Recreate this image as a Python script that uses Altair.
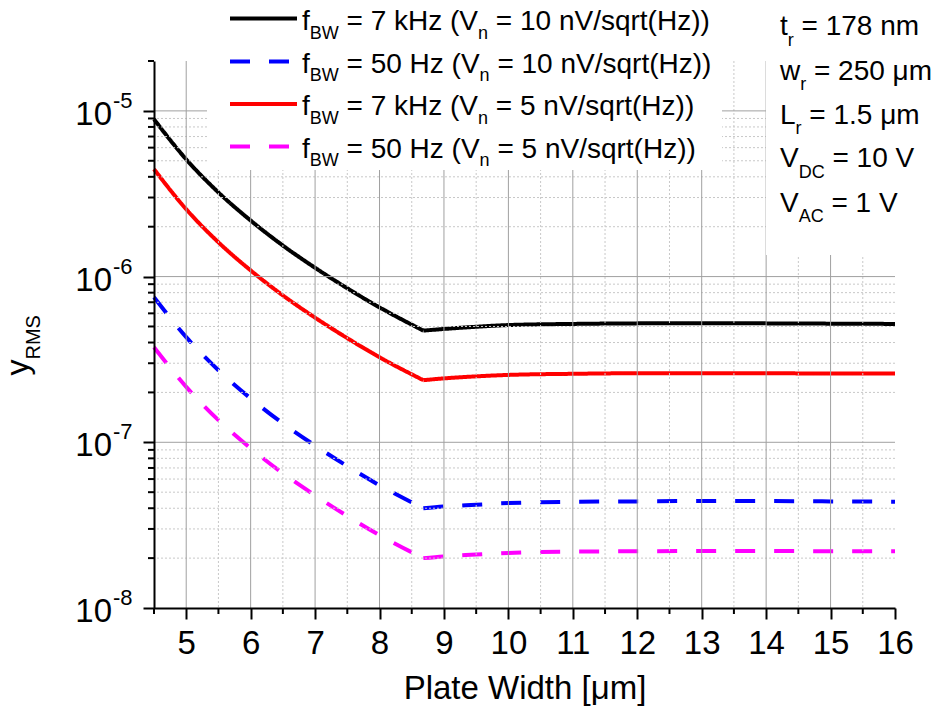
import altair as alt
import pandas as pd

# ---------------- data ----------------
plate_width = [4.5, 5.0, 5.5, 6.0, 6.5, 7.0, 7.5, 8.0, 8.68, 9.0, 9.5, 10, 11, 12, 13, 14, 15, 16]
kink_x = 8.68
y_7k_10 = [8.9e-6, 5.1e-6, 3.22e-6, 2.18e-6, 1.54e-6, 1.13e-6, 8.5e-7, 6.52e-7, 4.72e-7, 4.83e-7,
           4.98e-7, 5.1e-7, 5.18e-7, 5.22e-7, 5.23e-7, 5.22e-7, 5.2e-7, 5.18e-7]
y_50_10 = [7.5e-7, 4.31e-7, 2.72e-7, 1.84e-7, 1.3e-7, 9.55e-8, 7.18e-8, 5.5e-8, 4.0e-8, 4.1e-8,
           4.2e-8, 4.3e-8, 4.37e-8, 4.4e-8, 4.42e-8, 4.42e-8, 4.4e-8, 4.38e-8]
y_7k_5 = [4.45e-6, 2.55e-6, 1.61e-6, 1.09e-6, 7.7e-7, 5.65e-7, 4.25e-7, 3.26e-7, 2.37e-7, 2.43e-7,
          2.5e-7, 2.55e-7, 2.59e-7, 2.61e-7, 2.61e-7, 2.61e-7, 2.6e-7, 2.6e-7]
y_50_5 = [3.75e-7, 2.16e-7, 1.36e-7, 9.2e-8, 6.5e-8, 4.78e-8, 3.59e-8, 2.75e-8, 2.0e-8, 2.05e-8,
          2.1e-8, 2.15e-8, 2.19e-8, 2.2e-8, 2.21e-8, 2.21e-8, 2.2e-8, 2.2e-8]

series_keys = ["7k_10", "50_10", "7k_5", "50_5"]
series_colors = ["#000000", "#0000ff", "#ff0000", "#ff00ff"]
series_dash = [[1, 0], [20, 19], [1, 0], [20, 19]]

x_major_ticks = [5, 6, 7, 8, 9, 10, 11, 12, 13, 14, 15, 16]
x_major_grid = [5, 6, 7, 8, 9, 10, 11, 12, 13, 14, 15]
x_minor = [4.5, 5.5, 6.5, 7.5, 8.5, 9.5, 10.5, 11.5, 12.5, 13.5, 14.5, 15.5]
y_decades = [1e-8, 1e-7, 1e-6, 1e-5]
y_exponents = ["-8", "-7", "-6", "-5"]
y_major_grid = [1e-7, 1e-6, 1e-5]
y_minor_grid = [m * d for d in [1e-8, 1e-7, 1e-6] for m in range(2, 10)]
y_minor = y_minor_grid + [2e-5]

legend_rows = [
    [("f", 0), ("BW", 1), (" = 7 kHz (V", 0), ("n", 1), (" = 10 nV/sqrt(Hz))", 0)],
    [("f", 0), ("BW", 1), (" = 50 Hz (V", 0), ("n", 1), (" = 10 nV/sqrt(Hz))", 0)],
    [("f", 0), ("BW", 1), (" = 7 kHz (V", 0), ("n", 1), (" = 5 nV/sqrt(Hz))", 0)],
    [("f", 0), ("BW", 1), (" = 50 Hz (V", 0), ("n", 1), (" = 5 nV/sqrt(Hz))", 0)],
]
param_rows = [
    [("t", 0), ("r", 1), (" = 178 nm", 0)],
    [("w", 0), ("r", 1), (" = 250 μm", 0)],
    [("L", 0), ("r", 1), (" = 1.5 μm", 0)],
    [("V", 0), ("DC", 1), (" = 10 V", 0)],
    [("V", 0), ("AC", 1), (" = 1 V", 0)],
]

# ---------------- layout ----------------
FONT = "Liberation Sans"
OX, OY = 154, 61          # page position of plot origin
PW, PH = 741, 547
PAD_R, PAD_B = 39, 98

# Arial / Liberation Sans advance widths (1/1000 em)
WID = {' ': 278, '=': 584, '(': 333, ')': 333, '/': 278, '.': 278, '[': 278, ']': 278, '-': 333,
       'A': 667, 'B': 667, 'C': 722, 'D': 722, 'H': 722, 'L': 556, 'M': 833, 'R': 722, 'S': 667,
       'V': 667, 'W': 944, 'a': 556, 'd': 556, 'e': 556, 'f': 278, 'h': 556, 'i': 222, 'k': 500,
       'l': 222, 'm': 833, 'n': 556, 'q': 556, 'r': 333, 's': 500, 't': 278, 'w': 722, 'y': 500,
       'z': 500, 'μ': 576}
for d in "0123456789":
    WID[d] = 556


def layout(segs, x0, base, main, sub, shift):
    rows = []
    x = x0
    for t, s in segs:
        fs = sub if s else main
        lead = len(t) - len(t.lstrip(' '))
        x += lead * WID[' '] / 1000 * fs
        t2 = t.lstrip(' ')
        rows.append({'px': x - OX, 'py': base + (shift if s else 0) - OY, 'txt': t2, 'fs': fs})
        x += sum(WID[c] for c in t2) / 1000 * fs
    return rows


text_rows = []
legend_base = [30, 72.5, 115, 157.5]
for segs, b in zip(legend_rows, legend_base):
    text_rows += layout(segs, 302, b, 28, 18, 8.5)
param_base = [35, 79.5, 123.5, 167, 211.5]
for segs, b in zip(param_rows, param_base):
    text_rows += layout(segs, 780, b, 28, 18, 10.5)
text_df = pd.DataFrame(text_rows)

# ---------------- charts ----------------
xscale = alt.Scale(domain=[4.5, 16], nice=False, zero=False)
yscale = alt.Scale(type="log", domain=[1e-8, 2e-5], nice=False)

rows = []
for k, ys in zip(series_keys, [y_7k_10, y_50_10, y_7k_5, y_50_5]):
    for xv, yv in zip(plate_width, ys):
        # the curve has a sharp corner at the kink: draw both sides as separate smooth pieces
        if xv <= kink_x:
            rows.append({"series": k, "part": k + "_a", "x": xv, "y": yv})
        if xv >= kink_x:
            rows.append({"series": k, "part": k + "_b", "x": xv, "y": yv})
curves_df = pd.DataFrame(rows)

x_axis = alt.Axis(values=x_major_ticks, grid=False, tickSize=11, tickWidth=2, tickColor="black",
                  domainColor="black", domainWidth=2, labelFont=FONT, labelFontSize=33,
                  labelColor="black", labelPadding=8, labelFlush=False, format="d",
                  title="Plate Width [μm]", titleFont=FONT, titleFontSize=33, titleColor="black",
                  titleFontWeight="normal", titleBaseline="alphabetic", titleY=90, zindex=1)
y_axis = alt.Axis(values=y_decades, grid=False, labels=False, tickSize=11, tickWidth=2,
                  tickColor="black", domainColor="black", domainWidth=2, title=None, zindex=1)


def X(field):
    return alt.X(field, scale=xscale, axis=x_axis)


def Y(field):
    return alt.Y(field, scale=yscale, axis=y_axis)


vgrid_minor = alt.Chart(pd.DataFrame({"gx": x_minor[1:]})).mark_rule(
    color="#c8c8c8", strokeWidth=1, strokeDash=[2, 2]).encode(x=X("gx:Q"))
hgrid_minor = alt.Chart(pd.DataFrame({"gy": y_minor_grid})).mark_rule(
    color="#c8c8c8", strokeWidth=1, strokeDash=[2, 2]).encode(y=Y("gy:Q"))
vgrid_major = alt.Chart(pd.DataFrame({"gx": x_major_grid})).mark_rule(
    color="#a0a0a0", strokeWidth=1).encode(x=X("gx:Q"))
hgrid_major = alt.Chart(pd.DataFrame({"gy": y_major_grid})).mark_rule(
    color="#a0a0a0", strokeWidth=1).encode(y=Y("gy:Q"))

one = pd.DataFrame({"a": [0]})
legend_box = alt.Chart(one).mark_rect(color="white").encode(
    x=alt.value(207 - OX), x2=alt.value(722 - OX), y=alt.value(-OY), y2=alt.value(170 - OY))
param_box = alt.Chart(one).mark_rect(color="white").encode(
    x=alt.value(766 - OX), x2=alt.value(PW + PAD_R), y=alt.value(-OY), y2=alt.value(255 - OY))

curves = alt.Chart(curves_df).mark_line(strokeWidth=4, interpolate="monotone").encode(
    x=X("x:Q"),
    y=Y("y:Q"),
    color=alt.Color("series:N", scale=alt.Scale(domain=series_keys, range=series_colors), legend=None),
    strokeDash=alt.StrokeDash("series:N", scale=alt.Scale(domain=series_keys, range=series_dash), legend=None),
    detail="part:N",
)

xminor_ticks = alt.Chart(pd.DataFrame({"tx": x_minor})).mark_rule(color="black", strokeWidth=2).encode(
    x=X("tx:Q"), y=alt.value(PH), y2=alt.value(PH + 6))
yminor_ticks = alt.Chart(pd.DataFrame({"ty": y_minor})).mark_rule(color="black", strokeWidth=2).encode(
    y=Y("ty:Q"), x=alt.value(-6), x2=alt.value(0))

ylab_df = pd.DataFrame({"v": y_decades, "b": ["10"] * 4, "e": y_exponents})
ylab_base = alt.Chart(ylab_df).mark_text(align="right", baseline="alphabetic", font=FONT,
                                         fontSize=33, color="black", dy=14).encode(
    y=Y("v:Q"), x=alt.value(112 - OX), text="b:N")
ylab_exp = alt.Chart(ylab_df).mark_text(align="left", baseline="alphabetic", font=FONT,
                                        fontSize=22, color="black", dy=-3).encode(
    y=Y("v:Q"), x=alt.value(113 - OX), text="e:N")

ytitle_df = pd.DataFrame([{"px": 28.3 - OX, "py": 375.5 - OY, "txt": "y", "fs": 32},
                          {"px": 40 - OX, "py": 359.5 - OY, "txt": "RMS", "fs": 20}])
ytitle = alt.Chart(ytitle_df).mark_text(align="left", baseline="alphabetic", font=FONT,
                                        color="black", angle=270).encode(
    x=alt.X("px:Q", scale=None), y=alt.Y("py:Q", scale=None), text="txt:N",
    size=alt.Size("fs:Q", scale=None, legend=None))

texts = alt.Chart(text_df).mark_text(align="left", baseline="alphabetic", font=FONT,
                                     color="black").encode(
    x=alt.X("px:Q", scale=None), y=alt.Y("py:Q", scale=None), text="txt:N",
    size=alt.Size("fs:Q", scale=None, legend=None))

sym_y = [18.5, 61.5, 104, 146.5]
symbols = []
for col, dash, yy in zip(series_colors, series_dash, sym_y):
    symbols.append(alt.Chart(one).mark_rule(color=col, strokeWidth=4, strokeDash=dash).encode(
        x=alt.value(230 - OX), x2=alt.value(297 - OX), y=alt.value(yy - OY)))

chart = alt.layer(
    curves, vgrid_minor, hgrid_minor, vgrid_major, hgrid_major, legend_box, param_box,
    xminor_ticks, yminor_ticks, ylab_base, ylab_exp, ytitle, texts, *symbols
).properties(
    width=PW, height=PH,
    padding={"left": OX - 8, "top": OY - 8, "right": PAD_R, "bottom": PAD_B},
    autosize=alt.AutoSizeParams(type="none"),
).configure_view(stroke=None)

chart.save("out.html", embed_options={"renderer": "svg", "actions": False})
